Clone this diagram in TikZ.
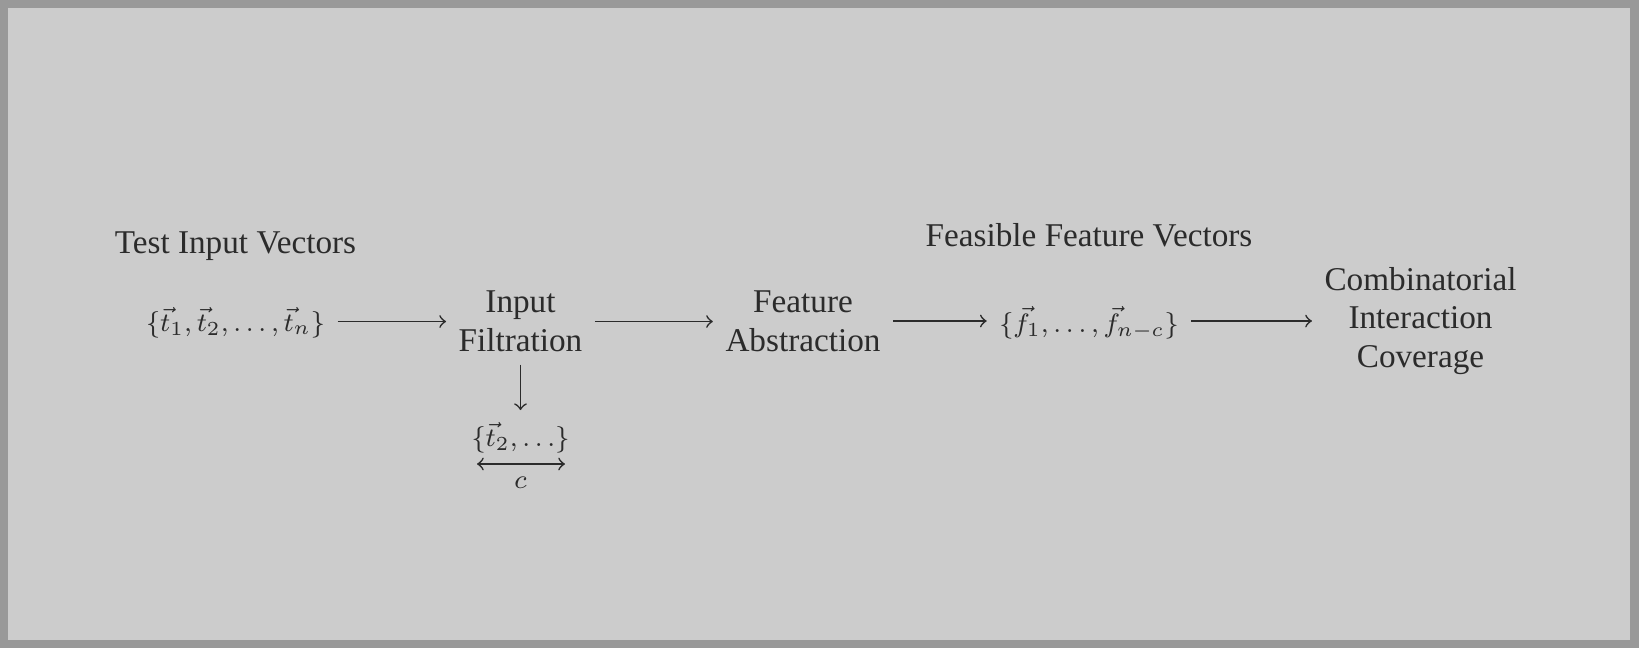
\documentclass[tikz,border=0pt]{standalone}
\usepackage{amsmath}
\usepackage{fontspec}
\setmainfont{Liberation Serif}
\definecolor{frame}{HTML}{999999}
\definecolor{bg}{HTML}{CCCCCC}
\definecolor{ink}{HTML}{2B2B2B}
\begin{document}
\begin{tikzpicture}[x=0.301pt,y=-0.301pt,
  every node/.style={text=ink, inner sep=3.6pt},
  lbl/.style={font=\fontsize{10}{11.7}\selectfont, align=center},
  mth/.style={font=\fontsize{8.5}{10.5}\selectfont},
  arr/.style={->, draw=ink, line width=0.5pt}]
\useasboundingbox (0,0) rectangle (1639,648);
\fill[frame] (0,0) rectangle (1639,648);
\fill[bg] (8,8) rectangle (1630,640);
\node[lbl, anchor=base] (tiv) at (235.5,253) {Test Input Vectors};
\node[mth] (ts) at (235.5,323) {$\{\vec{t}_1,\vec{t}_2,\ldots,\vec{t}_n\}$};
\node[lbl] (if) at (520.5,321.5) {Input\\Filtration};
\node[lbl] (fa) at (803,321) {Feature\\Abstraction};
\node[mth] (fs) at (1089,323) {$\{\vec{f}_1,\ldots,\vec{f}_{n-c}\}$};
\node[lbl, anchor=base] (ffv) at (1089,246) {Feasible Feature Vectors};
\node[lbl] (cic) at (1420.5,321) {Combinatorial\\Interaction\\Coverage};
\node[mth] (t2) at (520.5,438) {$\{\vec{t}_2,\ldots\}$};
\coordinate (cl) at (477,464);
\coordinate (cr) at (565,464);
\node[mth] (c) at (520.5,483) {$c$};
\draw[arr] (ts.east |- if.west) -- (if.west);
\draw[arr] (if.east) -- (if.east -| fa.west);
\draw[arr] (fa.east) -- (fa.east -| fs.west);
\draw[arr] (fs.east |- cic.west) -- (cic.west);
\draw[arr] (if.south) -- (t2.north);
\draw[arr, <->] (cl) -- (cr);
\end{tikzpicture}
\end{document}
